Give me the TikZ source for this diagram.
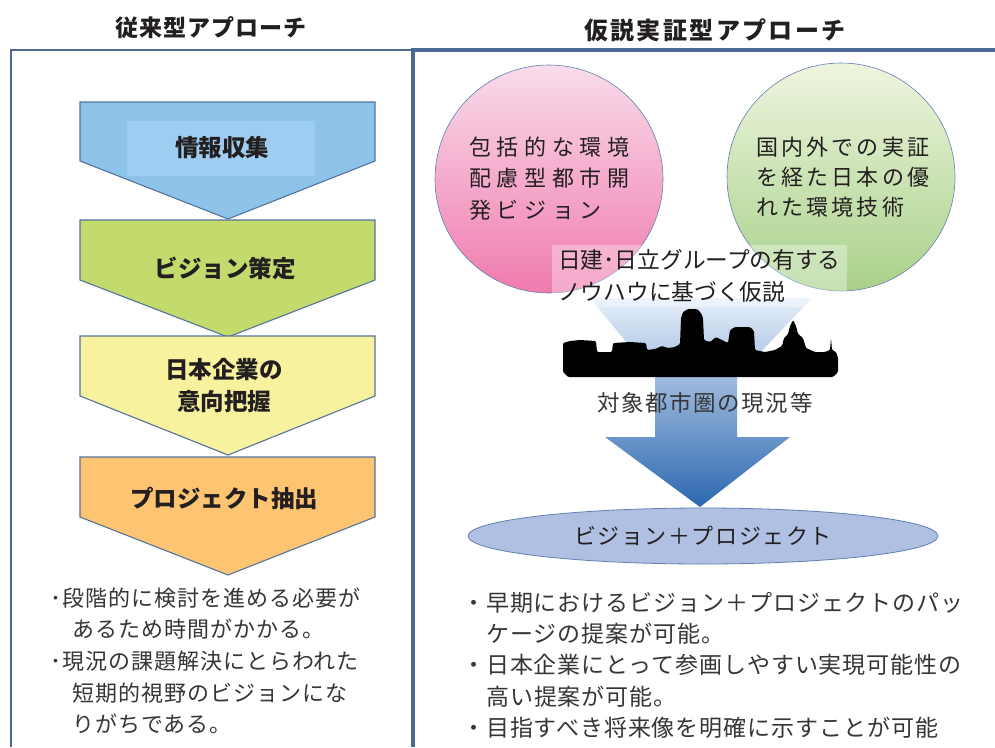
\documentclass[tikz,border=0pt]{standalone}
\usepackage{fontspec}
\setmainfont{Noto Sans CJK JP}
\newfontfamily\jp{Noto Sans CJK JP}
\usetikzlibrary{shapes.geometric}

\definecolor{frameblue}{HTML}{4A6A94}
\definecolor{chevline}{HTML}{55739F}
\definecolor{inkdark}{HTML}{231F20}
\definecolor{inkgray}{HTML}{363636}
\definecolor{stepblue}{HTML}{8DC3E9}
\definecolor{stepbluehi}{HTML}{9DCDF0}
\definecolor{stepgreen}{HTML}{C3DA6D}
\definecolor{stepyellow}{HTML}{F8F29E}
\definecolor{steporange}{HTML}{FDC471}
\definecolor{pinktop}{HTML}{F9DCEA}
\definecolor{pinkbot}{HTML}{F07BAE}
\definecolor{greentop}{HTML}{EEF5DF}
\definecolor{greenbot}{HTML}{A9D18A}
\definecolor{arrowtop}{HTML}{E6EFFA}
\definecolor{arrowbot}{HTML}{2B67B0}
\definecolor{ovalfill}{HTML}{AFC0E2}
\definecolor{ovalline}{HTML}{6080B0}

\tikzset{
  frame/.style={draw=frameblue},
  chevron/.style={draw=chevline, line width=1.1pt},
  steplabel/.style={inner sep=0pt, text=inkdark, align=center,
    font=\jp\bfseries\fontsize{23.5}{32}\selectfont},
  title/.style={inner sep=0pt, text=inkdark},
  bulletline/.style={anchor=west, inner sep=0pt, text=inkgray},
  bubble/.style={circle, draw=ovalline, line width=0.6pt, minimum size=228pt, inner sep=0pt},
  bubbletext/.style={anchor=west, inner sep=0pt, text=inkdark, align=left},
}

\begin{document}
\begin{tikzpicture}[x=1pt,y=-1pt]
\useasboundingbox (0,0) rectangle (995,747);
\fill[white] (0,0) rectangle (995,747);

% ---------- headings ----------
\node[title, font=\jp\bfseries\addfontfeature{LetterSpace=4}\fontsize{23}{23}\selectfont] (tleft) at (211,28) {従来型アプローチ};
\node[title, font=\jp\bfseries\addfontfeature{LetterSpace=10}\fontsize{24}{24}\selectfont] (tright) at (715,30) {仮説実証型アプローチ};

% ---------- frames ----------
\draw[frame, line width=2pt] (11,747) -- (11,50) -- (413,50);
\draw[frame, line width=4.5pt] (413,747) -- (413,50) -- (995,50);

% ---------- conventional process (chevrons) ----------
\fill[stepblue] (80,102) -- (375,102) -- (375,161) -- (228,219) -- (80,161) -- cycle;
\fill[stepbluehi] (127,121) rectangle (315,176);
\draw[chevron] (80,102) -- (375,102) -- (375,161) -- (228,219) -- (80,161) -- cycle;
\node[steplabel] (s1) at (222,148) {情報収集};

\draw[chevron, fill=stepgreen] (80,220) -- (375,220) -- (375,280) -- (228,337) -- (80,280) -- cycle;
\node[steplabel] (s2) at (225,268) {ビジョン策定};

\draw[chevron, fill=stepyellow] (80,336) -- (375,336) -- (375,396) -- (228,455) -- (80,396) -- cycle;
\node[steplabel] (s3) at (224,386) {日本企業の\\意向把握};

\draw[chevron, fill=steporange] (80,457) -- (375,457) -- (375,517) -- (228,575) -- (80,517) -- cycle;
\node[steplabel] (s4) at (224,498) {プロジェクト抽出};

% ---------- conventional: remarks ----------
\begin{scope}[every node/.append style={font=\jp\addfontfeature{LetterSpace=4.5}\fontsize{22}{22}\selectfont}]
\node[bulletline] (l1) at (50,598) {･段階的に検討を進める必要が};
\node[bulletline] (l2) at (72,629) {あるため時間がかかる。};
\node[bulletline] (l3) at (50,661) {･現況の課題解決にとらわれた};
\node[bulletline] (l4) at (72,693) {短期的視野のビジョンにな};
\node[bulletline] (l5) at (72,724) {りがちである。};
\end{scope}

% ---------- hypothesis-driven: inputs ----------
\node[bubble, top color=pinktop, bottom color=pinkbot] (pink) at (549,179) {};
\node[bubble, top color=greentop, bottom color=greenbot] (green) at (841,177) {};

\node[bubbletext, font=\jp\addfontfeature{LetterSpace=25.5}\fontsize{22}{31.5}\selectfont] (pinktext) at (469,178.5)
  {包括的な環境\\配慮型都市開\\発ビジョン};
\node[bubbletext, font=\jp\addfontfeature{LetterSpace=14.5}\fontsize{22}{30}\selectfont] (greentext) at (756,177)
  {国内外での実証\\を経た日本の優\\れた環境技術};

% funnel and arrow down to the result
\shade[top color=arrowtop, bottom color=arrowbot]
  (590,298) -- (812,298) -- (737,377) -- (737,437) -- (790,437) -- (700,507)
  -- (605,437) -- (655,437) -- (655,377) -- cycle;

\node[anchor=west, align=left, fill=white, fill opacity=0.35, text opacity=1, text=inkdark,
  inner xsep=6pt, inner ysep=4pt,
  font=\jp\fontsize{22.7}{32}\selectfont] (hypo) at (552,276)
  {日建･日立グループの有する\\ノウハウに基づく仮説};

% city skyline
\fill[black, rounded corners=1.2pt]
  (563,372) -- (563,343) -- (570,341) -- (580,340) -- (596,341) -- (597,352) -- (612,352)
  -- (613,343) -- (630,342) -- (646,343) -- (647,350) -- (655,349) -- (662,346) -- (668,348)
  -- (675,347) -- (680,344) -- (681,318) -- (683,312) -- (688,309) -- (697,309) -- (701,313)
  -- (703,318) -- (704,340) -- (710,342) -- (716,337) -- (722,340) -- (728,343) -- (730,330)
  -- (735,327) -- (750,327) -- (754,331) -- (755,350) -- (765,352) -- (775,350) -- (782,346)
  -- (784,338) -- (788,334) -- (790,326) -- (793,320) -- (796,326) -- (798,334) -- (803,338)
  -- (806,348) -- (815,352) -- (825,352) -- (830,350) -- (831,338) -- (832,350) -- (836,352)
  -- (838,358) -- (838,372) -- (833,377) -- (568,377) -- cycle;

\node[inner sep=0pt, text=inkgray, font=\jp\addfontfeature{LetterSpace=7}\fontsize{22.5}{22.5}\selectfont] (city) at (705,403) {対象都市圏の現況等};

% result
\node[ellipse, draw=ovalline, line width=0.8pt, fill=ovalfill, minimum width=470pt, minimum height=56pt,
  text=inkdark, font=\jp\addfontfeature{LetterSpace=7}\fontsize{22}{22}\selectfont] (result) at (703,536)
  {ビジョン＋プロジェクト};

% ---------- hypothesis-driven: remarks ----------
\begin{scope}[every node/.append style={font=\jp\addfontfeature{LetterSpace=4}\fontsize{23}{23}\selectfont}]
\node[bulletline] (r1) at (462,603) {・早期におけるビジョン＋プロジェクトのパッ};
\node[bulletline] (r2) at (486,634) {ケージの提案が可能。};
\node[bulletline] (r3) at (462,665) {・日本企業にとって参画しやすい実現可能性の};
\node[bulletline] (r4) at (486,697) {高い提案が可能。};
\node[bulletline] (r5) at (462,728) {・目指すべき将来像を明確に示すことが可能};
\end{scope}

\end{tikzpicture}
\end{document}
